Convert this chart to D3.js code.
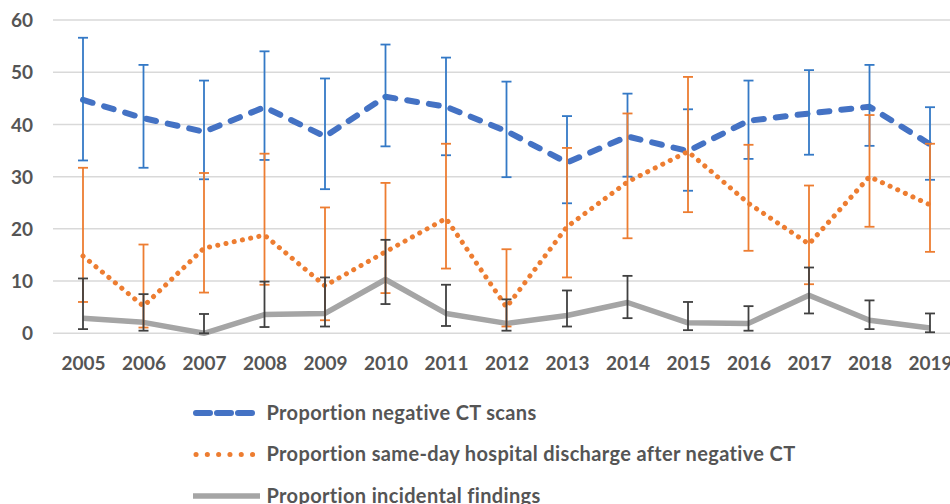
<!DOCTYPE html>
<html>
<head>
<meta charset="utf-8">
<script src="https://cdn.jsdelivr.net/npm/d3@7"></script>
<style>
  html, body { margin: 0; padding: 0; background: #fff; }
  svg { display: block; }
  text { font-family: Lato, "Open Sans", sans-serif; font-weight: bold; fill: #555555; }
</style>
</head>
<body>
<div class="chart"></div>
<script>
"use strict";

const years = ["2005", "2006", "2007", "2008", "2009", "2010", "2011", "2012",
               "2013", "2014", "2015", "2016", "2017", "2018", "2019"];
const yTicks = [0, 10, 20, 30, 40, 50, 60];

// Proportion negative CT scans, with CI bounds
const negativeCT   = [44.7, 41.2, 38.6, 43.3, 37.7, 45.3, 43.4, 38.7, 32.7, 37.7, 34.9, 40.7, 42.1, 43.4, 36.2];
const negativeCTLo = [33.1, 31.7, 29.5, 33.2, 27.6, 35.8, 34.1, 29.9, 24.9, 30.0, 27.3, 33.4, 34.2, 35.9, 29.4];
const negativeCTHi = [56.6, 51.4, 48.4, 54.0, 48.8, 55.3, 52.8, 48.2, 41.6, 45.9, 42.9, 48.4, 50.4, 51.4, 43.3];

// Proportion same-day discharge after negative CT
const sameDay   = [14.8, 5.2, 16.3, 18.8, 9.1, 15.6, 22.0, 5.0, 20.4, 29.0, 34.8, 24.9, 17.1, 30.0, 24.6];
const sameDayLo = [6.0, 1.1, 7.8, 9.3, 2.5, 7.7, 12.4, 1.3, 10.7, 18.2, 23.2, 15.8, 9.4, 20.4, 15.6];
const sameDayHi = [31.7, 17.0, 30.7, 34.4, 24.1, 28.8, 36.3, 16.1, 35.5, 42.1, 49.1, 36.1, 28.3, 41.8, 36.3];

// Proportion incidental findings
const incidental   = [2.9, 2.1, 0.0, 3.6, 3.8, 10.3, 3.8, 1.9, 3.4, 5.9, 2.0, 1.9, 7.3, 2.5, 1.0];
const incidentalLo = [0.8, 0.5, 0.0, 1.2, 1.3, 5.6, 1.4, 0.5, 1.3, 2.9, 0.6, 0.5, 3.8, 0.8, 0.2];
const incidentalHi = [10.5, 7.5, 3.7, 9.9, 10.7, 17.9, 9.3, 6.5, 8.2, 11.0, 6.0, 5.2, 12.6, 6.3, 3.8];

const seriesList = [
  { name: "Proportion negative CT scans", values: negativeCT, lo: negativeCTLo, hi: negativeCTHi,
    color: "#4472C4", errColor: "#3479C6", width: 6, dash: "10,12", legendDash: "14,7" },
  { name: "Proportion same-day hospital discharge after negative CT", values: sameDay, lo: sameDayLo, hi: sameDayHi,
    color: "#ED7D31", errColor: "#ED7D31", width: 5, dash: "0.1,8.3", legendDash: "0.1,11.2" },
  { name: "Proportion incidental findings", values: incidental, lo: incidentalLo, hi: incidentalHi,
    color: "#A5A5A5", errColor: "#404040", width: 5.5, dash: null, legendDash: null },
];

class LineChart {
  constructor (options) {
    this.width = options.width;
    this.height = options.height;
    this.svg = d3.select(options.selector).append("svg")
      .attr("width", this.width)
      .attr("height", this.height);

    this.x = d3.scalePoint().domain(years).range([52.75, 960.25]).padding(0.5);
    this.y = d3.scaleLinear().domain([0, 60]).range([333.3, 20]);
  }

  drawGrid () {
    this.svg.append("g").selectAll("line")
      .data(yTicks)
      .join("line")
      .attr("x1", 53).attr("x2", this.width)
      .attr("y1", d => this.y(d)).attr("y2", d => this.y(d))
      .attr("stroke", "#D9D9D9")
      .attr("stroke-width", 1.5);

    const yAxis = d3.axisLeft(this.y).tickValues(yTicks).tickSize(0).tickPadding(0);
    const gy = this.svg.append("g").attr("transform", "translate(33,0)").call(yAxis);
    gy.select(".domain").remove();
    gy.selectAll("text").attr("font-size", 19).attr("font-family", null).attr("dy", "0.35em");

    const xAxis = d3.axisBottom(this.x).tickSize(0).tickPadding(0);
    const gx = this.svg.append("g").attr("transform", "translate(0,370)").call(xAxis);
    gx.select(".domain").remove();
    gx.selectAll("text").attr("font-size", 19).attr("font-family", null).attr("dy", 0);
  }

  drawLines () {
    seriesList.forEach(s => {
      const line = d3.line()
        .x((d, i) => this.x(years[i]))
        .y(d => this.y(d));
      this.svg.append("path")
        .attr("fill", "none")
        .attr("stroke", s.color)
        .attr("stroke-width", s.width)
        .attr("stroke-linecap", s.dash ? "round" : "butt")
        .attr("stroke-linejoin", "round")
        .attr("stroke-dasharray", s.dash)
        .attr("d", line(s.values));
    });
  }

  drawErrorBars () {
    const cap = 5;
    seriesList.forEach(s => {
      const g = this.svg.append("g")
        .attr("stroke", s.errColor)
        .attr("stroke-width", 1.8);
      years.forEach((yr, i) => {
        const cx = this.x(yr);
        g.append("line").attr("x1", cx).attr("x2", cx)
          .attr("y1", this.y(s.lo[i])).attr("y2", this.y(s.hi[i]));
        [s.lo[i], s.hi[i]].forEach(v => {
          g.append("line").attr("x1", cx - cap).attr("x2", cx + cap)
            .attr("y1", this.y(v)).attr("y2", this.y(v));
        });
      });
    });
  }

  drawLegend () {
    const legend = this.svg.append("g");
    seriesList.forEach((s, i) => {
      const cy = 413 + i * 41.5;
      legend.append("path")
        .attr("fill", "none")
        .attr("stroke", s.color)
        .attr("stroke-width", s.width)
        .attr("stroke-linecap", s.legendDash ? "round" : "butt")
        .attr("stroke-dasharray", s.legendDash)
        .attr("d", s.legendDash ? `M196,${cy}H254` : `M193,${cy}H260`);
      legend.append("text")
        .attr("x", 266.5)
        .attr("y", cy + 6.8)
        .attr("font-size", 20)
        .attr("letter-spacing", 0.35)
        .text(s.name);
    });
  }
}

const chart = new LineChart({ selector: ".chart", width: 950, height: 504 });
chart.drawGrid();
chart.drawLines();
chart.drawErrorBars();
chart.drawLegend();
</script>
</body>
</html>
